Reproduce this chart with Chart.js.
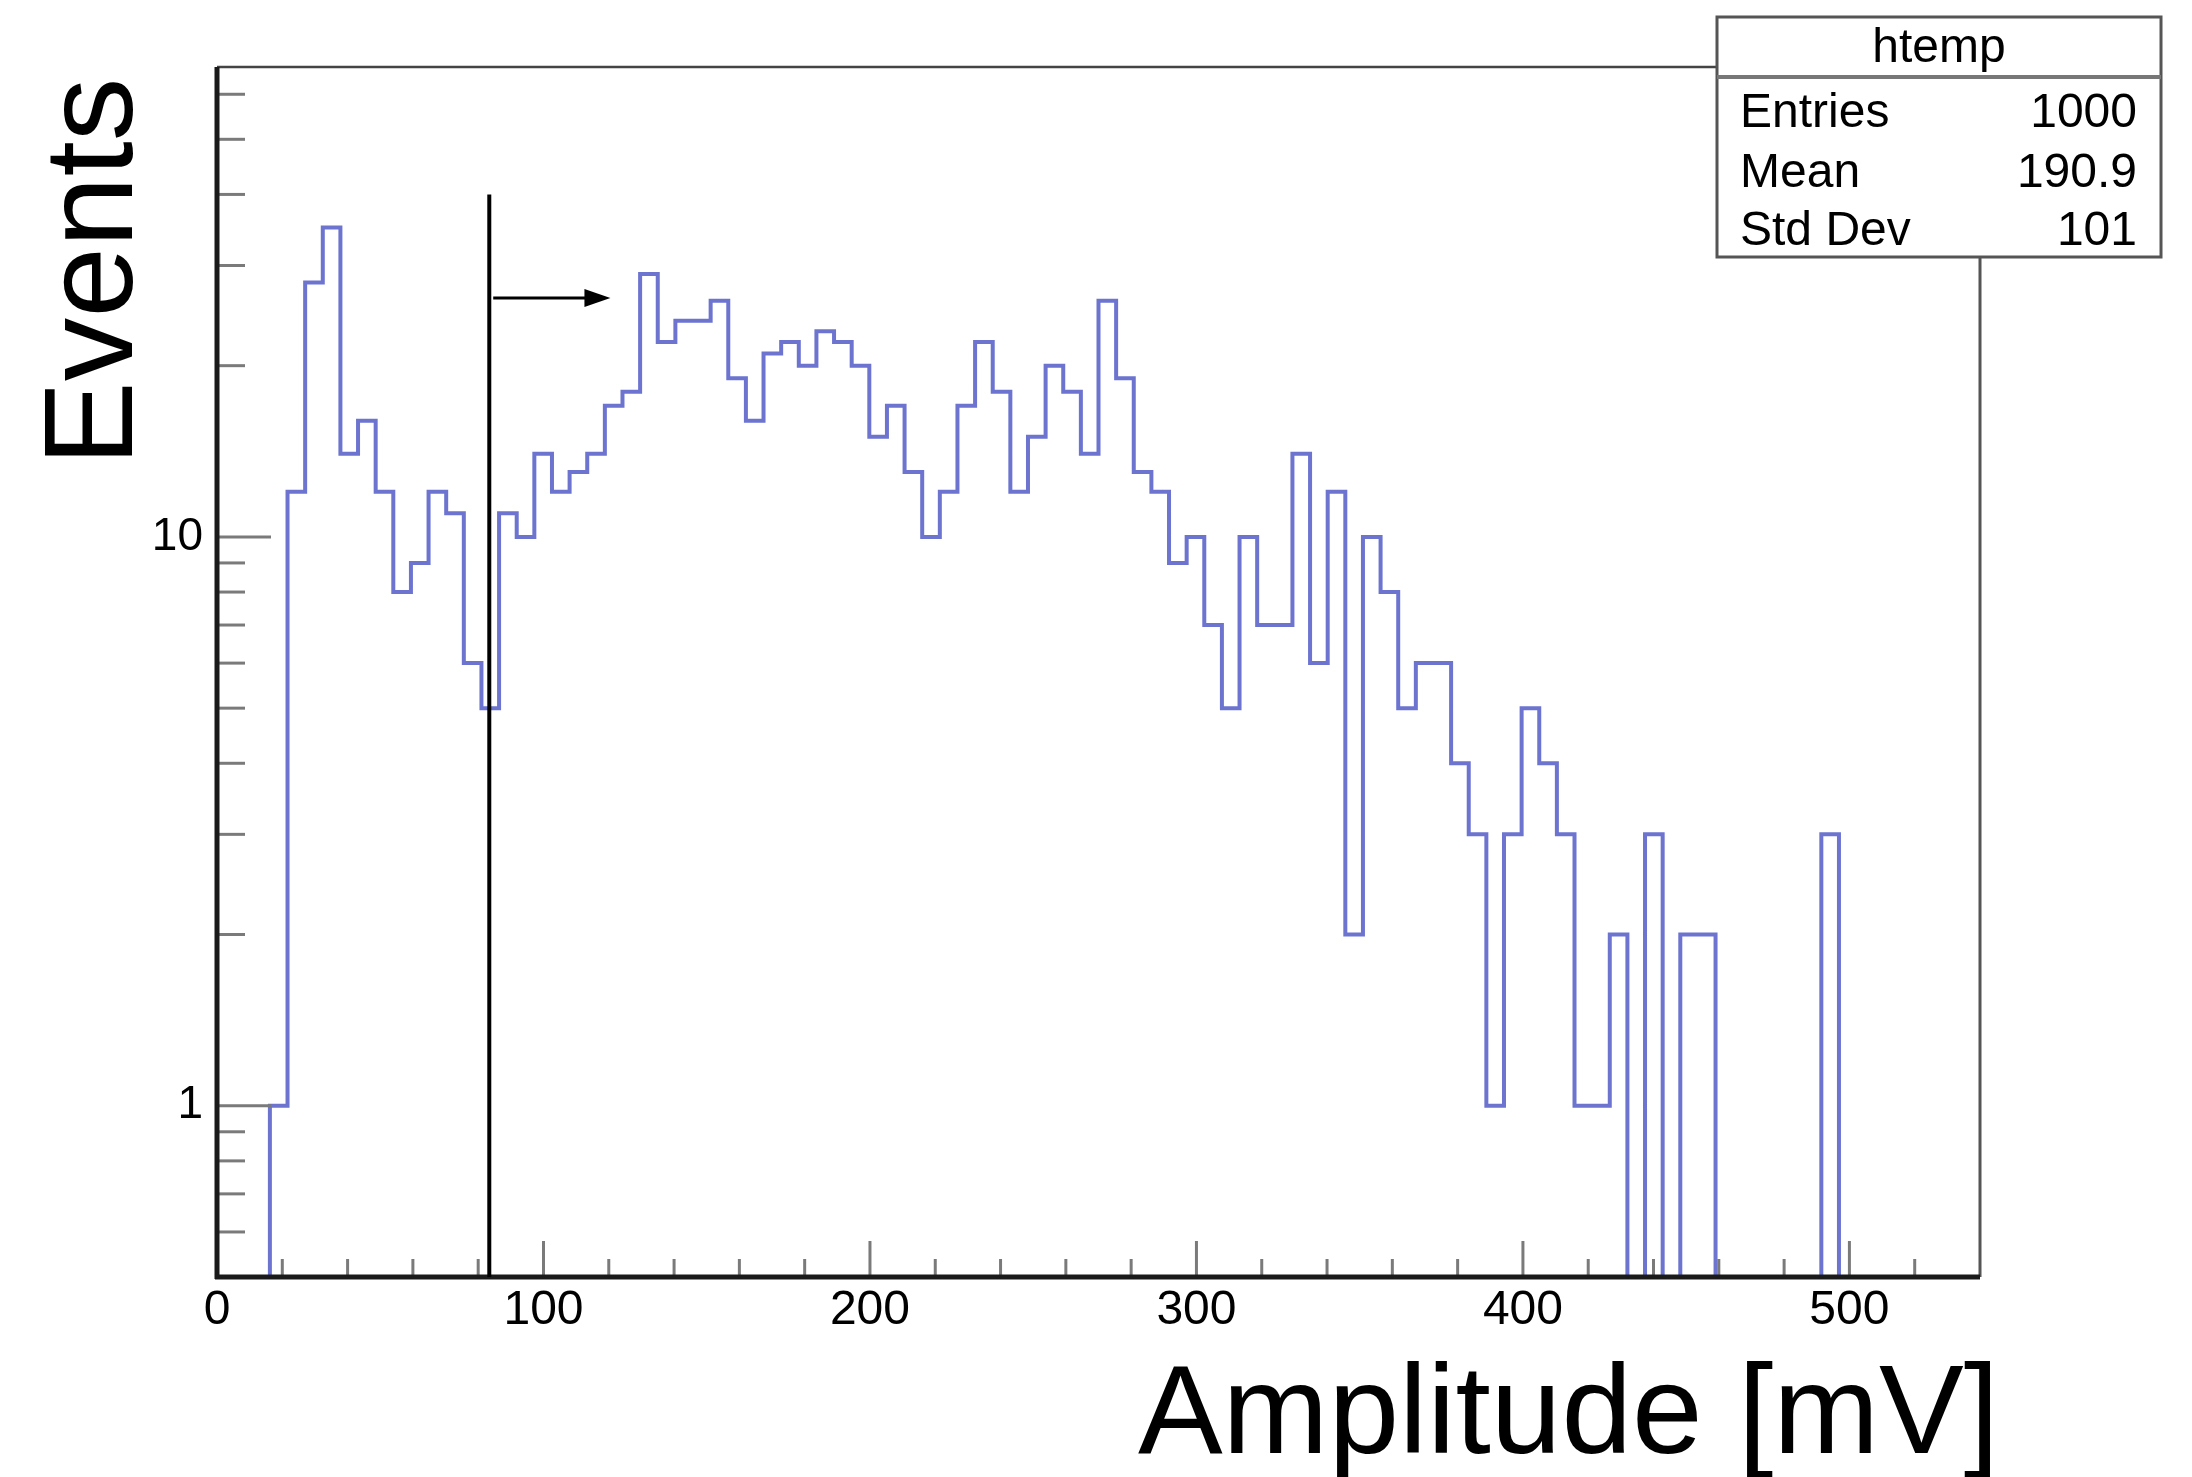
<!DOCTYPE html>
<html>
<head>
<meta charset="utf-8">
<script src="https://cdn.jsdelivr.net/npm/chart.js@4.4.1/dist/chart.umd.min.js"></script>
<style>
  html, body { margin: 0; padding: 0; background: #fff; }
  canvas { display: block; }
</style>
</head>
<body>
<canvas id="myChart" width="2192" height="1477"></canvas>
<script>
// htemp: 100 bins from 0 to 540 mV
const binStart = 0;
const binWidth = 5.4;
const counts = [
  0, 0, 0, 1, 12, 28, 35, 14, 16, 12,
  8, 9, 12, 11, 6, 5, 11, 10, 14, 12,
  13, 14, 17, 18, 29, 22, 24, 24, 26, 19,
  16, 21, 22, 20, 23, 22, 20, 15, 17, 13,
  10, 12, 17, 22, 18, 12, 15, 20, 18, 14,
  26, 19, 13, 12, 9, 10, 7, 5, 10, 7,
  7, 14, 6, 12, 2, 10, 8, 5, 6, 6,
  4, 3, 1, 3, 5, 4, 3, 1, 1, 2,
  0, 3, 0, 2, 2, 0, 0, 0, 0, 0,
  0, 3, 0, 0, 0, 0, 0, 0, 0, 0
];

const xTicks = [0, 20, 40, 60, 80, 100, 120, 140, 160, 180, 200, 220, 240, 260, 280,
  300, 320, 340, 360, 380, 400, 420, 440, 460, 480, 500, 520];
const xLabels = [0, 100, 200, 300, 400, 500];
const yTicks = [0.6, 0.7, 0.8, 0.9, 1, 2, 3, 4, 5, 6, 7, 8, 9, 10, 20, 30, 40, 50, 60];
const yLabels = [1, 10];
const yMin = 0.5;
const yMax = 67;

const statsTitle = 'htemp';
const statsNames = ['Entries', 'Mean', 'Std Dev'];
const statsValues = ['1000', '190.9', '101'];

// threshold marker (mV) and arrow, in data units
const cutAt = 83.4;
const cutTop = 40;
const arrowFrom = 84.6;
const arrowTo = 120.5;
const arrowLevel = 26.3;

const histColor = 'rgb(108,116,208)';
const FONT = "'Liberation Sans', Arial, Helvetica, sans-serif";

// empty bins sit on the frame floor, like ROOT does on a log axis
const points = counts.map((c, i) => ({ x: binStart + i * binWidth, y: c > 0 ? c : yMin }));
const lastCount = counts[counts.length - 1];
points.push({ x: binStart + counts.length * binWidth, y: lastCount > 0 ? lastCount : yMin });

function seg(ctx, x1, y1, x2, y2) {
  ctx.beginPath();
  ctx.moveTo(x1, y1);
  ctx.lineTo(x2, y2);
  ctx.stroke();
}

const rootFrame = {
  id: 'rootFrame',
  afterDraw(chart) {
    const { ctx, chartArea: a } = chart;
    const x = chart.scales.x, y = chart.scales.y;
    ctx.save();

    // inward ticks
    ctx.strokeStyle = '#7a7a7a';
    ctx.lineWidth = 3;
    x.ticks.forEach(t => {
      const px = x.getPixelForValue(t.value);
      const len = xLabels.includes(t.value) ? 36 : 18;
      seg(ctx, px, a.bottom, px, a.bottom - len);
    });
    y.ticks.forEach(t => {
      const py = y.getPixelForValue(t.value);
      const len = yLabels.includes(t.value) ? 54 : 28;
      seg(ctx, a.left, py, a.left + len, py);
    });

    // frame
    ctx.strokeStyle = '#444';
    ctx.lineWidth = 2.5;
    seg(ctx, a.left, a.top, a.right, a.top);
    ctx.strokeStyle = '#555';
    ctx.lineWidth = 3;
    seg(ctx, a.right, a.top, a.right, a.bottom);
    ctx.strokeStyle = '#1a1a1a';
    ctx.lineWidth = 5;
    seg(ctx, a.left, a.top, a.left, a.bottom + 2);
    seg(ctx, a.left - 2, a.bottom, a.right, a.bottom);

    // cut line + arrow
    ctx.strokeStyle = '#000';
    ctx.fillStyle = '#000';
    ctx.lineWidth = 4;
    const cx = x.getPixelForValue(cutAt);
    seg(ctx, cx, a.bottom, cx, y.getPixelForValue(cutTop));
    const ay = y.getPixelForValue(arrowLevel);
    const ax1 = x.getPixelForValue(arrowFrom);
    const ax2 = x.getPixelForValue(arrowTo);
    ctx.lineWidth = 3;
    seg(ctx, ax1, ay, ax2 - 20, ay);
    ctx.beginPath();
    ctx.moveTo(ax2, ay);
    ctx.lineTo(ax2 - 26, ay - 9);
    ctx.lineTo(ax2 - 26, ay + 9);
    ctx.closePath();
    ctx.fill();

    // stats box
    const bx = 1717, by = 17, bw = 444, bh = 240;
    ctx.fillStyle = '#fff';
    ctx.fillRect(bx, by, bw, bh);
    ctx.strokeStyle = '#555';
    ctx.lineWidth = 3;
    ctx.strokeRect(bx, by, bw, bh);
    ctx.strokeStyle = '#777';
    ctx.lineWidth = 4;
    seg(ctx, bx, 77, bx + bw, 77);
    ctx.fillStyle = '#000';
    ctx.font = '48px ' + FONT;
    ctx.textBaseline = 'alphabetic';
    ctx.textAlign = 'center';
    ctx.fillText(statsTitle, bx + bw / 2, 62);
    const rowBase = [127, 187, 245];
    statsNames.forEach((n, i) => {
      ctx.textAlign = 'left';
      ctx.fillText(n, 1740, rowBase[i]);
      ctx.textAlign = 'right';
      ctx.fillText(statsValues[i], 2137, rowBase[i]);
    });

    // axis titles
    ctx.font = '127px ' + FONT;
    ctx.textAlign = 'right';
    ctx.fillText('Amplitude [mV]', 1999, 1453);
    ctx.translate(132, 466);
    ctx.rotate(-Math.PI / 2);
    ctx.textAlign = 'left';
    ctx.fillText('Events', 0, 0);

    ctx.restore();
  }
};

Chart.defaults.font.family = FONT;
Chart.defaults.color = '#000';

const ctx = document.getElementById('myChart');

new Chart(ctx, {
  type: 'line',
  data: {
    datasets: [{
      data: points,
      stepped: 'before',
      borderColor: histColor,
      borderWidth: 4,
      pointRadius: 0,
      fill: false
    }]
  },
  options: {
    responsive: false,
    animation: false,
    devicePixelRatio: 1,
    layout: { padding: { top: 67, right: 212, left: 0, bottom: 0 } },
    plugins: {
      legend: { display: false },
      tooltip: { enabled: false }
    },
    scales: {
      x: {
        type: 'linear',
        min: 0,
        max: 540,
        afterBuildTicks: s => { s.ticks = xTicks.map(v => ({ value: v })); },
        afterFit: s => { s.height = 200; },
        grid: { display: false, drawTicks: false },
        border: { display: false },
        ticks: {
          autoSkip: false,
          maxRotation: 0,
          padding: 5,
          font: { size: 48 },
          callback: v => xLabels.includes(v) ? String(v) : ''
        }
      },
      y: {
        type: 'logarithmic',
        min: yMin,
        max: yMax,
        afterBuildTicks: s => { s.ticks = yTicks.map(v => ({ value: v })); },
        afterFit: s => { s.width = 217; },
        grid: { display: false, drawTicks: false },
        border: { display: false },
        ticks: {
          autoSkip: false,
          padding: 14,
          font: { size: 46 },
          callback: v => yLabels.includes(v) ? String(v) : ''
        }
      }
    }
  },
  plugins: [rootFrame]
});
</script>
</body>
</html>
